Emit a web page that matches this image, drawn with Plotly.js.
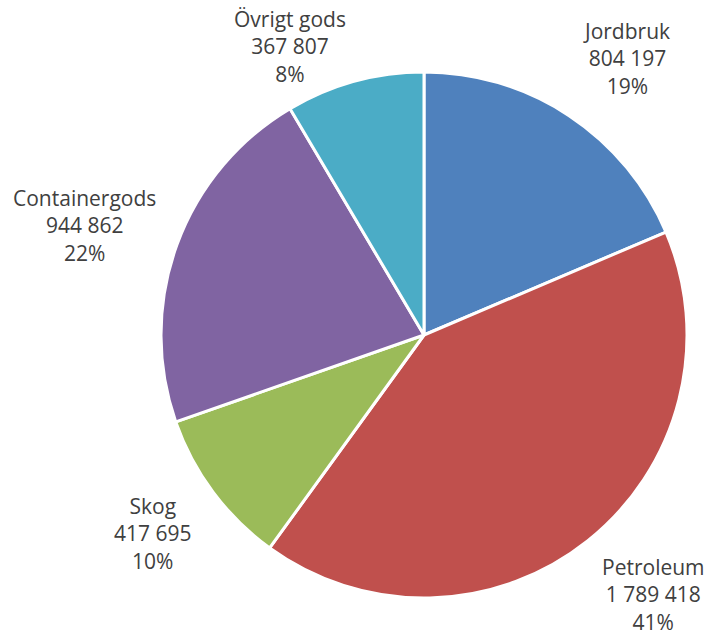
<!DOCTYPE html>
<html>
<head>
<meta charset="utf-8">
<script src="https://cdn.plot.ly/plotly-3.0.1.min.js"></script>
<style>html,body{margin:0;padding:0;background:#fff;}#chart{width:711px;height:637px;}</style>
</head>
<body>
<div id="chart"></div>
<script>
// Data
const categories = ["Jordbruk", "Petroleum", "Skog", "Containergods", "Övrigt gods"];
const values = [804197, 1789418, 417695, 944862, 367807];
const percentLabels = ["19%", "41%", "10%", "22%", "8%"];
const colors = ["#4F81BD", "#C0504D", "#9BBB59", "#8064A2", "#4BACC6"];

// Label layout tweaks (angle offset in degrees, radial distance factor)
const labelAngleOffset = [2.7, -2.9, 0.5, -2.1, -9.6];
const labelRadiusFactor = [1.304, 1.318, 1.278, 1.357, 1.209];

const W = 711, H = 637;
const dom = {x: [161 / W, 687 / W], y: [1 - 598 / H, 1 - 72 / H]};
const cx = (dom.x[0] + dom.x[1]) / 2 * W;
const cy = (1 - (dom.y[0] + dom.y[1]) / 2) * H;
const R = (dom.x[1] - dom.x[0]) * W / 2;

function fmt(n) {
  return String(n).replace(/\B(?=(\d{3})+(?!\d))/g, " ");
}
const total = values.reduce((a, b) => a + b, 0);

const annotations = [];
let cum = 0;
values.forEach((v, i) => {
  const mid = (cum + v / 2) / total * 360;
  cum += v;
  const a = (mid + labelAngleOffset[i]) * Math.PI / 180;
  const d = R * labelRadiusFactor[i];
  const px = cx + d * Math.sin(a);
  const py = cy - d * Math.cos(a);
  annotations.push({
    xref: "paper", yref: "paper",
    x: px / W, y: 1 - py / H,
    xanchor: "center", yanchor: "middle",
    text: categories[i] + "<br>" + fmt(v) + "<br>" + percentLabels[i],
    showarrow: false,
    align: "center",
    borderpad: 0,
    font: {family: "Open Sans", size: 21, color: "#404040"}
  });
});

const trace = {
  type: "pie",
  labels: categories,
  values: values,
  sort: false,
  direction: "clockwise",
  rotation: 0,
  marker: {colors: colors, line: {color: "#ffffff", width: 3}},
  textinfo: "none",
  hoverinfo: "label+value+percent",
  domain: dom,
  showlegend: false
};

Plotly.newPlot("chart", [trace], {
  width: W, height: H,
  margin: {l: 0, r: 0, t: 0, b: 0},
  paper_bgcolor: "#ffffff",
  showlegend: false,
  annotations: annotations
}, {displayModeBar: false, staticPlot: true});
</script>
</body>
</html>
